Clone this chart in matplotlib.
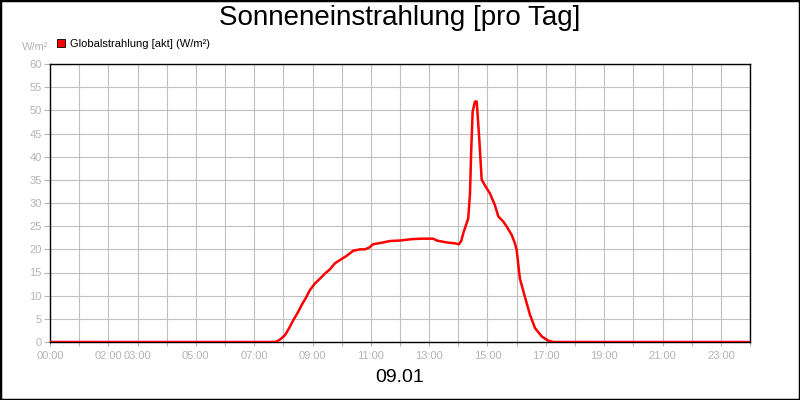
import matplotlib.pyplot as plt
from matplotlib.patches import Patch, Rectangle

plt.rcParams['font.family'] = ['Liberation Sans', 'DejaVu Sans']

# Globalstrahlung over the day (hour of day, W/m²)
hours = [0, 7.70, 7.77, 7.90, 8.06, 8.20, 8.34, 8.50, 8.63, 8.78, 8.91, 9.08,
         9.26, 9.43, 9.60, 9.77, 9.97, 10.17, 10.40, 10.63, 10.80, 10.95,
         11.08, 11.35, 11.66, 12.00, 12.40, 12.75, 13.14, 13.26, 13.50,
         13.71, 13.88, 14.02, 14.10, 14.17, 14.34, 14.40, 14.44, 14.49,
         14.57, 14.63, 14.72, 14.80, 14.97, 15.08, 15.25, 15.37, 15.54,
         15.66, 15.83, 15.94, 16.00, 16.06, 16.11, 16.28, 16.46, 16.63,
         16.86, 17.08, 17.26, 24]
values = [0, 0, 0.1, 0.6, 1.5, 3.0, 4.7, 6.4, 8.0, 9.6, 11.2, 12.6,
          13.7, 14.8, 15.7, 17.0, 17.8, 18.6, 19.7, 20.0, 20.0, 20.4,
          21.1, 21.4, 21.8, 21.9, 22.2, 22.3, 22.3, 21.9, 21.6,
          21.4, 21.3, 21.1, 21.8, 23.5, 26.7, 32.1, 41.0, 49.7,
          51.9, 51.9, 43.6, 35.0, 33.2, 32.1, 29.6, 27.1, 26.0,
          24.9, 23.1, 21.3, 19.9, 16.5, 13.7, 9.8, 5.8, 3.0,
          1.2, 0.3, 0, 0]

label_hours = [0, 2, 3, 5, 7, 9, 11, 13, 15, 17, 19, 21, 23]
y_ticks = list(range(0, 61, 5))

grey = '#b4b4b4'

fig = plt.figure(figsize=(8, 4), dpi=100)
ax = fig.add_axes([50 / 800, 58 / 400, 700 / 800, 278 / 400])

ax.plot(hours, values, color='#ff0000', lw=1.8, solid_joinstyle='round', zorder=3)

ax.set_xlim(0, 24)
ax.set_ylim(0, 60)
ax.set_xticks(range(25))
ax.set_xticklabels(['%02d:00' % h if h in label_hours else '' for h in range(25)])
ax.set_yticks(y_ticks)
ax.grid(True, color='#c0c0c0', lw=0.8)
ax.set_axisbelow(True)
ax.tick_params(axis='both', colors=grey, labelsize=8, width=0.8)
ax.tick_params(axis='x', length=3, pad=3.5)
ax.tick_params(axis='y', length=4, pad=2)
for s in ax.spines.values():
    s.set_color('black')
    s.set_linewidth(1.0)

fig.text(0.5, 1 - 18 / 400, 'Sonneneinstrahlung [pro Tag]', ha='center', va='center', fontsize=20)
fig.text(0.5, 1 - 378 / 400, '09.01', ha='center', va='center', fontsize=14)
fig.text(22 / 800, 1 - 47 / 400, 'W/m²', ha='left', va='center', fontsize=8, color=grey)

fig.legend(handles=[Patch(facecolor='#ff0000', edgecolor='black', lw=0.6,
                          label='Globalstrahlung [akt] (W/m²)')],
           loc='center left', bbox_to_anchor=(57 / 800, 1 - 44 / 400), frameon=False,
           fontsize=8, handlelength=0.75, handleheight=0.75, handletextpad=0.4,
           borderpad=0, borderaxespad=0)

fig.patches.append(Rectangle((0, 0), 1, 1, transform=fig.transFigure, fill=False,
                             edgecolor='black', lw=2.5))

fig.savefig('out.png', dpi=100)
